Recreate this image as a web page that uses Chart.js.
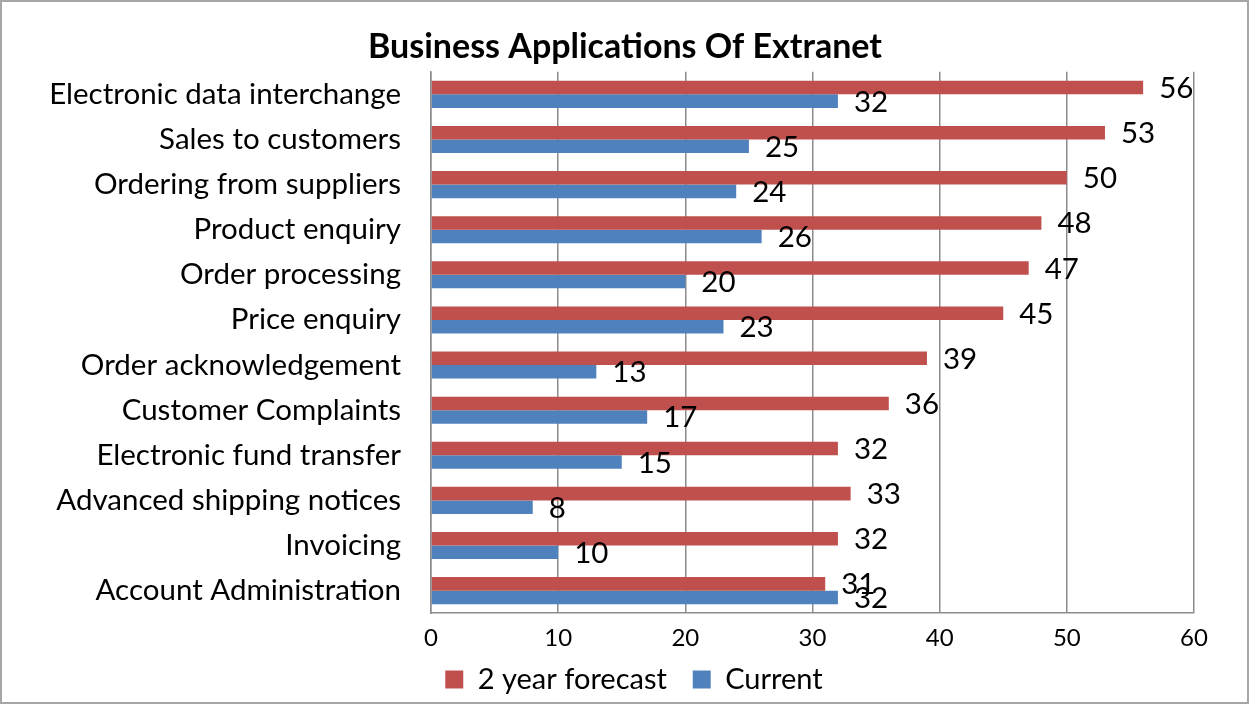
<!DOCTYPE html>
<html>
<head>
<meta charset="utf-8">
<script src="https://cdn.jsdelivr.net/npm/chart.js@4.4.0/dist/chart.umd.min.js"></script>
<style>
  html, body { margin: 0; padding: 0; background: #fff; }
  #wrap { width: 1249px; height: 704px; }
</style>
</head>
<body>
<div id="wrap"><canvas id="myChart" width="1249" height="704"></canvas></div>
<script>
const categories = [
  'Electronic data interchange',
  'Sales to customers',
  'Ordering from suppliers',
  'Product enquiry',
  'Order processing',
  'Price enquiry',
  'Order acknowledgement',
  'Customer Complaints',
  'Electronic fund transfer',
  'Advanced shipping notices',
  'Invoicing',
  'Account Administration',
];
const forecast = [56, 53, 50, 48, 47, 45, 39, 36, 32, 33, 32, 31];
const current = [32, 25, 24, 26, 20, 23, 13, 17, 15, 8, 10, 32];
const xTicks = [0, 10, 20, 30, 40, 50, 60];

const FONT = 'Lato, "Open Sans", sans-serif';
const LABEL_SIZE = 29.5;

// value labels just past the end of each bar
const barLabels = {
  id: 'barLabels',
  afterDatasetsDraw(chart) {
    const { ctx } = chart;
    ctx.save();
    ctx.font = LABEL_SIZE + 'px ' + FONT;
    ctx.fillStyle = '#000';
    ctx.textAlign = 'left';
    ctx.textBaseline = 'middle';
    chart.data.datasets.forEach((ds, i) => {
      const meta = chart.getDatasetMeta(i);
      meta.data.forEach((bar, j) => {
        ctx.fillText(String(ds.data[j]), bar.x + 16, bar.y + 1);
      });
    });
    ctx.restore();
  },
};

// centre title and legend on the whole canvas instead of the padded box
const recentre = {
  id: 'recentre',
  afterLayout(chart) {
    const shift = (box, d) => { box.left += d; box.right += d; };
    shift(chart.titleBlock, 28);
    shift(chart.legend, 37);
  },
};

// thin frame round the whole chart
const outerFrame = {
  id: 'outerFrame',
  afterDraw(chart) {
    const { ctx, width, height } = chart;
    ctx.save();
    ctx.strokeStyle = '#a6a6a6';
    ctx.lineWidth = 2;
    ctx.strokeRect(1, 1, width - 2, height - 2);
    ctx.restore();
  },
};

new Chart(document.getElementById('myChart'), {
  type: 'bar',
  data: {
    labels: categories,
    datasets: [
      {
        label: '2 year forecast',
        data: forecast,
        backgroundColor: '#C0504D',
        categoryPercentage: 0.6,
        barPercentage: 1.0,
      },
      {
        label: 'Current',
        data: current,
        backgroundColor: '#4F81BD',
        categoryPercentage: 0.6,
        barPercentage: 1.0,
      },
    ],
  },
  options: {
    indexAxis: 'y',
    responsive: false,
    animation: false,
    layout: { padding: { left: 0, right: 55, top: 0, bottom: 0 } },
    scales: {
      x: {
        min: 0,
        max: 60,
        afterBuildTicks(scale) {
          scale.ticks = xTicks.map((v) => ({ value: v }));
        },
        afterFit(scale) { scale.height -= 10; },
        grid: { color: '#8c8c8c', lineWidth: 1.5, drawTicks: false },
        border: { color: '#8c8c8c', width: 1.5 },
        ticks: { color: '#000', font: { family: FONT, size: 24 }, padding: 11 },
      },
      y: {
        afterFit(scale) { scale.width = 431; },
        grid: { display: false, drawTicks: false },
        border: { color: '#8c8c8c', width: 1.5 },
        ticks: { color: '#000', font: { family: FONT, size: LABEL_SIZE }, padding: 30 },
      },
    },
    plugins: {
      title: {
        display: true,
        text: 'Business Applications Of Extranet',
        color: '#000',
        font: { family: FONT, size: 34, weight: 'bold' },
        padding: { top: 27, bottom: 4 },
      },
      legend: {
        position: 'bottom',
        labels: {
          color: '#000',
          font: { family: FONT, size: 29 },
          boxWidth: 18,
          boxHeight: 18,
          padding: 11,
          // trailing spaces widen the gap between the two entries
          generateLabels(chart) {
            const items = Chart.defaults.plugins.legend.labels.generateLabels(chart);
            items.forEach((it, i) => {
              if (i < items.length - 1) it.text += '  ';
            });
            return items;
          },
        },
      },
      tooltip: { enabled: false },
    },
  },
  plugins: [barLabels, recentre, outerFrame],
});
</script>
</body>
</html>
